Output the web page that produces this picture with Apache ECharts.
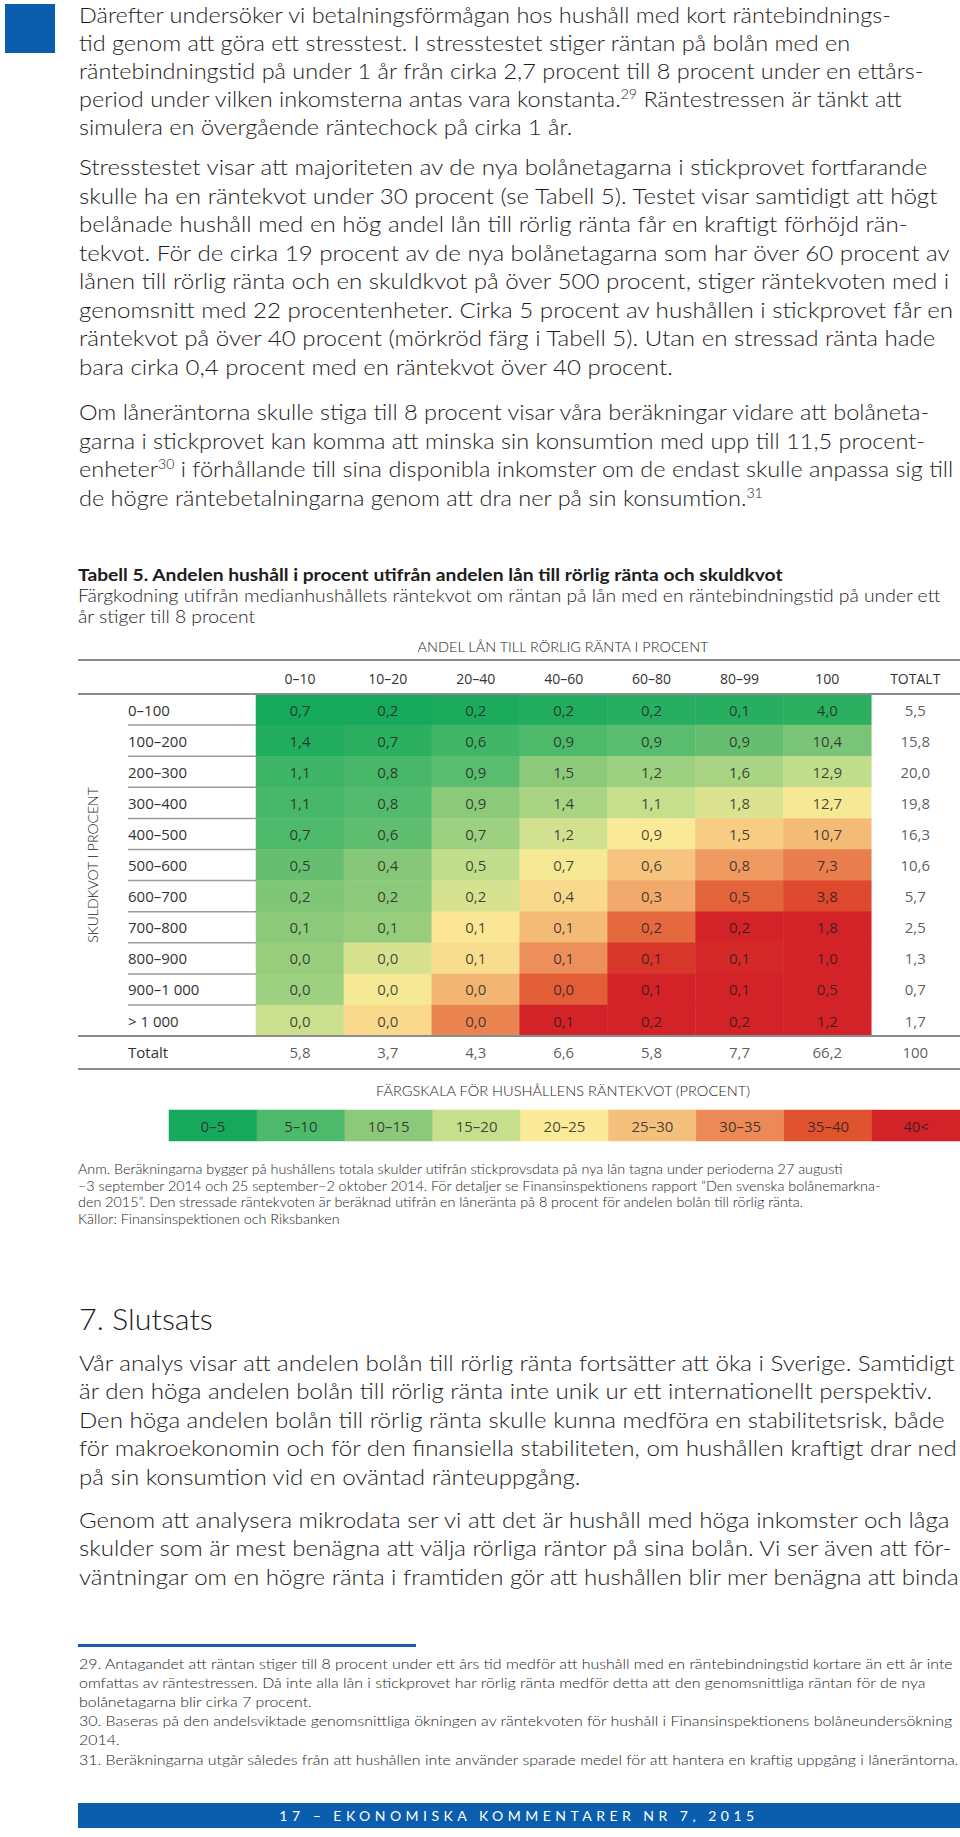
<!DOCTYPE html>
<html><head><meta charset="utf-8">
<script src="https://cdn.jsdelivr.net/npm/echarts@6/dist/echarts.min.js"></script>
<style>
html,body{margin:0;padding:0;background:#fff;}
#page{position:relative;width:960px;height:1837px;overflow:hidden;background:#fff;}
#chart{position:absolute;left:0;top:0;width:960px;height:1837px;z-index:0;}
.ln{position:absolute;left:78.5px;white-space:nowrap;transform-origin:0 50%;color:#1e1b1c;font-family:Lato,"Open Sans",sans-serif;font-weight:300;z-index:2;}
.body{font-size:21.5px;line-height:28px;height:28px;}
.head{font-size:30px;line-height:36px;height:36px;}
.foot{font-size:14px;line-height:19px;height:19px;}
.ln sup{font-size:0.6em;vertical-align:0;position:relative;top:-0.6em;}
.box{position:absolute;z-index:1;}
#footer{position:absolute;left:78px;top:1803px;width:882px;height:25px;background:#0b5ead;color:#fff;font-family:Lato,"Open Sans",sans-serif;font-size:14px;line-height:25px;text-align:center;white-space:nowrap;z-index:2;}
</style></head>
<body><div id="page"><div id="chart"></div>
<div class="box" style="left:5px;top:4px;width:50px;height:49px;background:#0b5ead"></div>
<div class="box" style="left:78px;top:1644px;width:338px;height:3px;background:#1a5ca8"></div>
<div id="footer"></div>
</div>
<script>
// ---------- data ----------
const colLabels = ['0–10','10–20','20–40','40–60','60–80','80–99','100'];
const totalLabel = 'TOTALT';
const rowLabels = ['0–100','100–200','200–300','300–400','400–500','500–600','600–700','700–800','800–900','900–1 000','> 1 000'];
const totalRowLabel = 'Totalt';
const shares = [
 [0.7,0.2,0.2,0.2,0.2,0.1,4.0],
 [1.4,0.7,0.6,0.9,0.9,0.9,10.4],
 [1.1,0.8,0.9,1.5,1.2,1.6,12.9],
 [1.1,0.8,0.9,1.4,1.1,1.8,12.7],
 [0.7,0.6,0.7,1.2,0.9,1.5,10.7],
 [0.5,0.4,0.5,0.7,0.6,0.8,7.3],
 [0.2,0.2,0.2,0.4,0.3,0.5,3.8],
 [0.1,0.1,0.1,0.1,0.2,0.2,1.8],
 [0.0,0.0,0.1,0.1,0.1,0.1,1.0],
 [0.0,0.0,0.0,0.0,0.1,0.1,0.5],
 [0.0,0.0,0.0,0.1,0.2,0.2,1.2]
];
const rowTotals = [5.5,15.8,20.0,19.8,16.3,10.6,5.7,2.5,1.3,0.7,1.7];
const colTotals = [5.8,3.7,4.3,6.6,5.8,7.7,66.2];
const grandTotal = 100;
// median household interest ratio (percent)
const medianRatio = [
 [2,2,3,3.5,4,4,4.5],
 [3.5,4.5,6.5,7.5,8.5,9.5,11],
 [6,7,8.5,12.5,14,15,17],
 [7,8,12.5,15,17.5,19.5,22],
 [7.5,9,14,18.5,22.5,26,28],
 [9.5,12,17,22,27,31,33.5],
 [11.5,12.5,19,24.5,29.5,36,38.5],
 [12.5,13.5,23,28,35.5,42.5,42.5],
 [13.5,19,24,32,40.5,42,42.5],
 [14,22,28.5,36.5,42.5,42.5,42.5],
 [18,24.5,33,42.5,42.5,42.5,42.5]
];
const scaleLabels = ['0–5','5–10','10–15','15–20','20–25','25–30','30–35','35–40','40<'];
const scaleMid = [2.5,7.5,12.5,17.5,22.5,27.5,32.5,37.5,42.5];

// ---------- texts ----------
const para1 = [
 'Därefter undersöker vi betalningsförmågan hos hushåll med kort räntebindnings-',
 'tid genom att göra ett stresstest. I stresstestet stiger räntan på bolån med en',
 'räntebindningstid på under 1 år från cirka 2,7 procent till 8 procent under en ettårs-',
 'period under vilken inkomsterna antas vara konstanta.<sup>29</sup> Räntestressen är tänkt att',
 'simulera en övergående räntechock på cirka 1 år.'];
const para2 = [
 'Stresstestet visar att majoriteten av de nya bolånetagarna i stickprovet fortfarande',
 'skulle ha en räntekvot under 30 procent (se Tabell 5). Testet visar samtidigt att högt',
 'belånade hushåll med en hög andel lån till rörlig ränta får en kraftigt förhöjd rän-',
 'tekvot. För de cirka 19 procent av de nya bolånetagarna som har över 60 procent av',
 'lånen till rörlig ränta och en skuldkvot på över 500 procent, stiger räntekvoten med i',
 'genomsnitt med 22 procentenheter. Cirka 5 procent av hushållen i stickprovet får en',
 'räntekvot på över 40 procent (mörkröd färg i Tabell 5). Utan en stressad ränta hade',
 'bara cirka 0,4 procent med en räntekvot över 40 procent.'];
const para3 = [
 'Om låneräntorna skulle stiga till 8 procent visar våra beräkningar vidare att bolåneta-',
 'garna i stickprovet kan komma att minska sin konsumtion med upp till 11,5 procent-',
 'enheter<sup>30</sup> i förhållande till sina disponibla inkomster om de endast skulle anpassa sig till',
 'de högre räntebetalningarna genom att dra ner på sin konsumtion.<sup>31</sup>'];
const heading = '7. Slutsats';
const para4 = [
 'Vår analys visar att andelen bolån till rörlig ränta fortsätter att öka i Sverige. Samtidigt',
 'är den höga andelen bolån till rörlig ränta inte unik ur ett internationellt perspektiv.',
 'Den höga andelen bolån till rörlig ränta skulle kunna medföra en stabilitetsrisk, både',
 'för makroekonomin och för den finansiella stabiliteten, om hushållen kraftigt drar ned',
 'på sin konsumtion vid en oväntad ränteuppgång.'];
const para5 = [
 'Genom att analysera mikrodata ser vi att det är hushåll med höga inkomster och låga',
 'skulder som är mest benägna att välja rörliga räntor på sina bolån. Vi ser även att för-',
 'väntningar om en högre ränta i framtiden gör att hushållen blir mer benägna att binda'];
const footnotes = [
 '29. Antagandet att räntan stiger till 8 procent under ett års tid medför att hushåll med en räntebindningstid kortare än ett år inte',
 'omfattas av räntestressen. Då inte alla lån i stickprovet har rörlig ränta medför detta att den genomsnittliga räntan för de nya',
 'bolånetagarna blir cirka 7 procent.',
 '30. Baseras på den andelsviktade genomsnittliga ökningen av räntekvoten för hushåll i Finansinspektionens bolåneundersökning',
 '2014.',
 '31. Beräkningarna utgår således från att hushållen inte använder sparade medel för att hantera en kraftig uppgång i låneräntorna.'];
const footerText = '17 – EKONOMISKA KOMMENTARER NR 7, 2015';
const tableTitle = 'Tabell 5. Andelen hushåll i procent utifrån andelen lån till rörlig ränta och skuldkvot';
const tableSub = ['Färgkodning utifrån medianhushållets räntekvot om räntan på lån med en räntebindningstid på under ett','år stiger till 8 procent'];
const colHeader = 'ANDEL LÅN TILL RÖRLIG RÄNTA I PROCENT';
const rowHeader = 'SKULDKVOT I PROCENT';
const scaleTitle = 'FÄRGSKALA FÖR HUSHÅLLENS RÄNTEKVOT (PROCENT)';
const notes = [
 'Anm. Beräkningarna bygger på hushållens totala skulder utifrån stickprovsdata på nya lån tagna under perioderna 27 augusti',
 '–3 september 2014 och 25 september–2 oktober 2014. För detaljer se Finansinspektionens rapport ”Den svenska bolånemarkna-',
 'den 2015”. Den stressade räntekvoten är beräknad utifrån en låneränta på 8 procent för andelen bolån till rörlig ränta.',
 'Källor: Finansinspektionen och Riksbanken'];

// ---------- HTML text ----------
const page = document.getElementById('page');
function block(lines, y0, pitch, cls, lh, refIdx, refW){
  const els = lines.map((t,i)=>{
    const d = document.createElement('div');
    d.className = 'ln ' + cls; d.innerHTML = t;
    d.style.top = (y0 + i*pitch - lh/2) + 'px';
    page.appendChild(d); return d;
  });
  const s = refW / els[refIdx].offsetWidth;
  els.forEach(e => e.style.transform = 'scaleX(' + s + ')');
}
block(para1, 15, 28, 'body', 28, 2, 845);
block(para2, 167, 28.5, 'body', 28, 0, 848);
block(para3, 412, 28.5, 'body', 28, 0, 850);
block([heading], 1318, 0, 'head', 36, 0, 134);
block(para4, 1363, 28.4, 'body', 28, 0, 876);
block(para5, 1520, 28.4, 'body', 28, 0, 870);
block(footnotes, 1663, 19.2, 'foot', 19, 0, 874);
(function(){
  const f = document.getElementById('footer');
  f.textContent = footerText;
  const probe = document.createElement('span');
  probe.style.cssText = 'position:absolute;visibility:hidden;white-space:nowrap;font:14px Lato,"Open Sans",sans-serif;';
  probe.textContent = footerText; page.appendChild(probe);
  const w = probe.offsetWidth; page.removeChild(probe);
  f.style.letterSpacing = ((475 - w) / (footerText.length - 1)) + 'px';
})();

// ---------- chart ----------
const FF = '"Open Sans", "Noto Sans", sans-serif';
const TF = 'Lato, "Open Sans", sans-serif';
const mctx = document.createElement('canvas').getContext('2d');
function fit(text, font, w){ mctx.font = font; return w / mctx.measureText(text).width; }
const fmt = v => (v === 100 ? '100' : v.toFixed(1).replace('.', ','));
const scaleColors = ['#17a95b','#4db96b','#8cc97a','#c6df8d','#fbea97','#f5c07b','#eb8a56','#e0532f','#d42328'];

const CW = 87.9, RH = 31.1, GT = 694, GL = 256;
const heatData = [];
shares.forEach((row, i) => row.forEach((v, j) => heatData.push([j, i, medianRatio[i][j], v])));
const totalData = rowTotals.map((v, i) => [7, i, v])
  .concat(colTotals.map((v, j) => [j, 11, v]))
  .concat([[7, 11, grandTotal]]);

const txt = (text, x, y, size, weight, w, align, extra) => Object.assign({
  type: 'text', x: x, y: y, z: 50, silent: true,
  scaleX: w ? fit(text, weight + ' ' + size + 'px ' + TF, w) : 1,
  style: { text: text, fontSize: size, fontFamily: TF, fontWeight: weight, fill: '#1e1b1c', align: align || 'left', verticalAlign: 'middle' }
}, extra || {});

const graphics = [
  txt(tableTitle, 78, 574, 17.5, 'bold', 706),
  txt(tableSub[0], 78, 595, 17.5, '300', 863),
  Object.assign(txt(tableSub[1], 78, 616, 17.5, '300', 0), { scaleX: fit(tableSub[0], '300 17.5px ' + TF, 863) }),
  txt(colHeader, 563, 647, 13.5, '300', 293, 'center'),
  txt(rowHeader, 93, 865, 13.5, '300', 156, 'center', { rotation: Math.PI / 2 }),
  txt(scaleTitle, 563, 1091, 13.5, '300', 375, 'center')
];
const noteScale = fit(notes[0], '300 14px ' + TF, 766);
notes.forEach((t, i) => graphics.push(Object.assign(txt(t, 78, 1169 + i * 16.5, 14, '300', 0), { scaleX: noteScale })));
[660, 694, 1036, 1069].forEach(y => graphics.push({
  type: 'line', z: 60, silent: true, shape: { x1: 78, y1: y, x2: 960, y2: y }, style: { stroke: '#8c8c8c', lineWidth: 2 }
}));

const chart = echarts.init(document.getElementById('chart'), null, { renderer: 'svg', width: 960, height: 1837 });
chart.setOption({
  animation: false,
  backgroundColor: 'transparent',
  grid: [
    { left: GL, top: GT, width: CW * 8, height: RH * 12 },
    { left: 169, top: 1110, width: CW * 9, height: 31 }
  ],
  xAxis: [
    { type: 'category', gridIndex: 0, position: 'top', data: colLabels.concat([totalLabel]),
      axisLine: { show: false }, axisTick: { show: false }, splitLine: { show: false },
      axisLabel: { interval: 0, margin: 16, verticalAlign: 'middle', fontSize: 14, fontFamily: FF, color: '#333' } },
    { type: 'category', gridIndex: 1, data: scaleLabels, show: false }
  ],
  yAxis: [
    { type: 'category', gridIndex: 0, inverse: true, data: rowLabels.concat([totalRowLabel]),
      axisLine: { show: false }, axisTick: { show: false }, splitLine: { show: false },
      axisLabel: { interval: 0, align: 'left', margin: GL - 128, fontSize: 15, fontFamily: FF, color: '#333' } },
    { type: 'category', gridIndex: 1, data: ['skala'], show: false }
  ],
  visualMap: { show: false, type: 'continuous', seriesIndex: [0, 3], dimension: 2, min: 2.5, max: 42.5,
    inRange: { color: scaleColors } },
  series: [
    { type: 'heatmap', xAxisIndex: 0, yAxisIndex: 0, data: heatData, itemStyle: { borderWidth: 0 },
      emphasis: { disabled: true },
      label: { show: true, fontSize: 15, fontFamily: FF, color: 'rgba(35,31,32,0.82)', formatter: p => fmt(p.value[3]) } },
    { type: 'scatter', xAxisIndex: 0, yAxisIndex: 0, data: totalData, symbolSize: 1, silent: true,
      itemStyle: { color: 'rgba(0,0,0,0)' },
      label: { show: true, position: 'inside', fontSize: 15, fontFamily: FF, color: '#333', formatter: p => fmt(p.value[2]) } },
    { type: 'custom', xAxisIndex: 0, yAxisIndex: 0, silent: true, z: 5,
      data: rowLabels.slice(0, -1).map((_, i) => [0, i]),
      renderItem: (params, api) => {
        const p = api.coord([0, api.value(1)]); const s = api.size([1, 1]);
        const y = p[1] + s[1] / 2;
        return { type: 'line', shape: { x1: 128, y1: y, x2: p[0] - s[0] / 2, y2: y }, style: { stroke: '#9a9a9a', lineWidth: 1.5 } };
      } },
    { type: 'heatmap', xAxisIndex: 1, yAxisIndex: 1, data: scaleMid.map((v, i) => [i, 0, v]),
      itemStyle: { borderWidth: 0 }, emphasis: { disabled: true },
      label: { show: true, fontSize: 15, fontFamily: FF, color: 'rgba(35,31,32,0.82)', formatter: p => scaleLabels[p.value[0]] } }
  ],
  graphic: graphics
});
</script>
</body></html>
